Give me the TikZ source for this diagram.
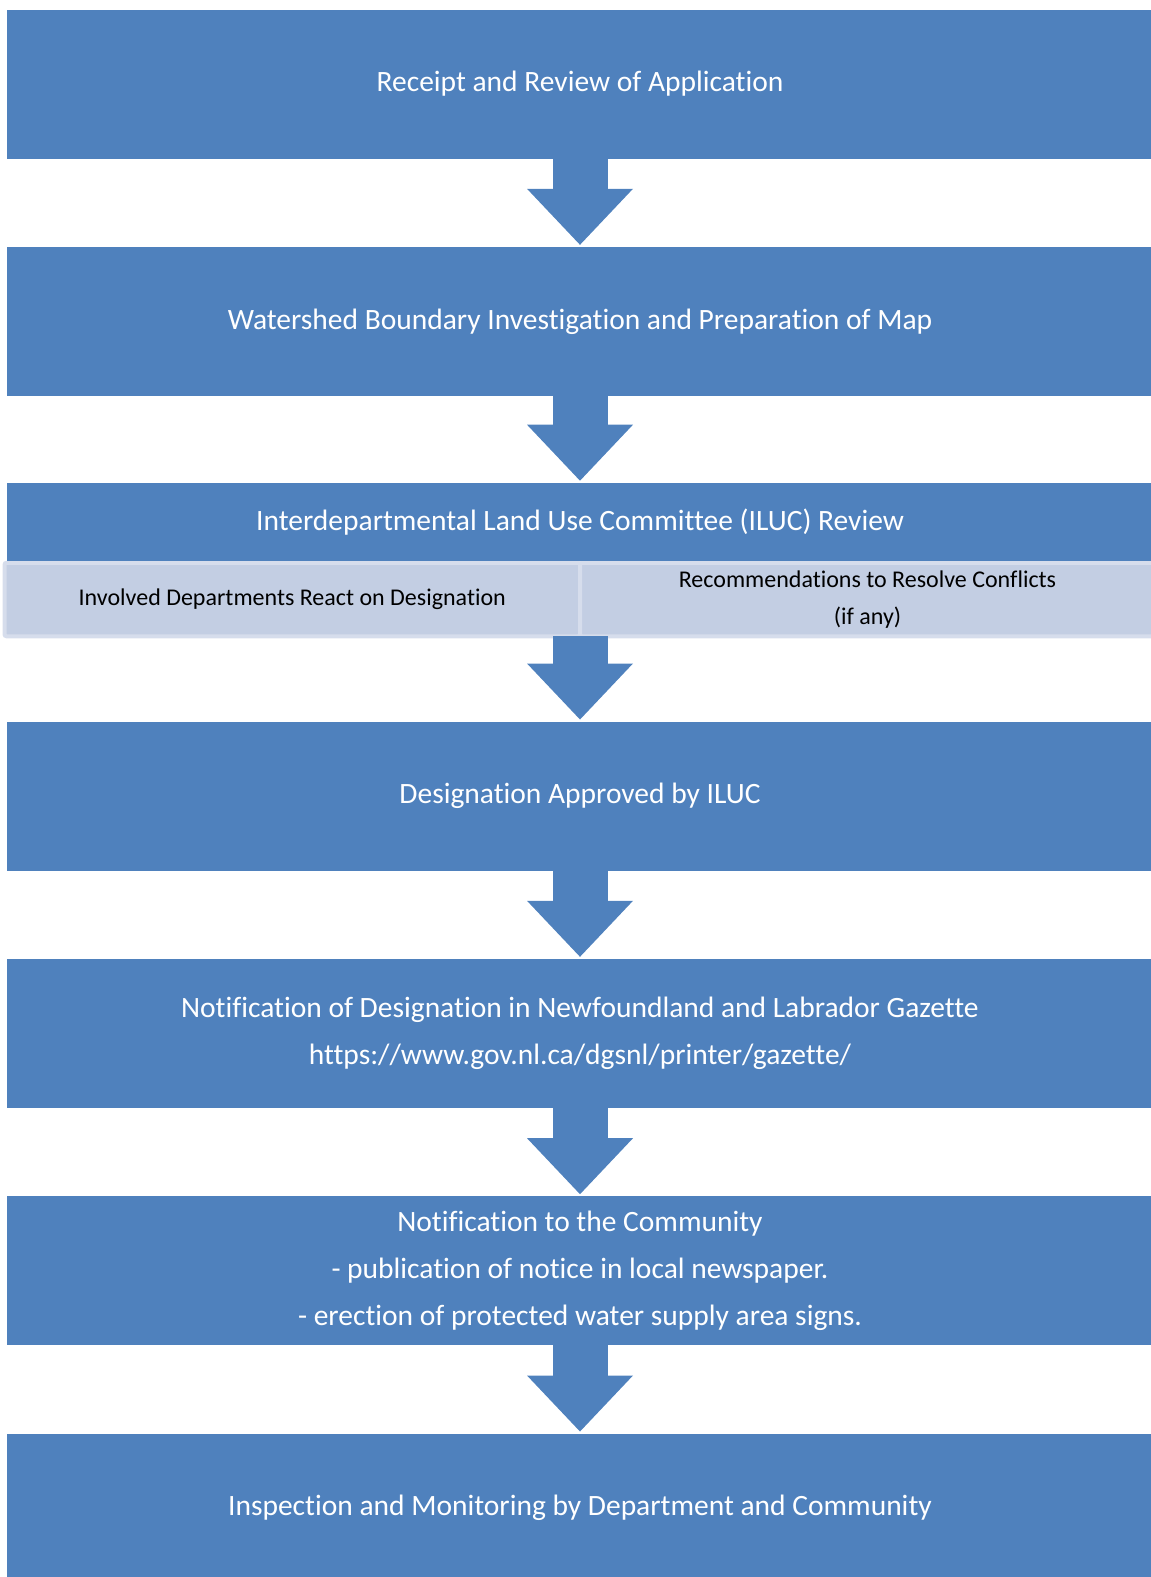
\documentclass[tikz,border=0pt]{standalone}
\usepackage{fontspec}
\setmainfont{Carlito}[Ligatures=CommonOff]
\usetikzlibrary{arrows.meta}
\definecolor{boxblue}{HTML}{4F81BD}
\definecolor{subfill}{HTML}{C3CEE3}
\definecolor{subedge}{HTML}{D6DDEC}
\begin{document}
\begin{tikzpicture}[x=1pt,y=-1pt,
  stepbox/.style={rectangle, fill=boxblue, text=white, minimum width=1146pt, minimum height=149pt, inner sep=0pt, outer sep=0pt, align=center, font=\fontsize{29.5pt}{47pt}\selectfont},
  subbox/.style={rectangle, fill=subfill, draw=subedge, line width=4pt, rounded corners=2pt, minimum height=73.5pt, inner sep=0pt, outer sep=0pt, align=center, font=\fontsize{24pt}{37.5pt}\selectfont},
  flow/.style={draw=boxblue, line width=55pt, -{Triangle[width=106pt,length=56pt,line width=0pt]}, shorten >=2pt}]
\useasboundingbox (0,0) rectangle (1151,1577);
\node[stepbox] (receipt) at (580,84){Receipt and Review of Application};
\node[stepbox] (watershed) at (580,321.3){Watershed Boundary Investigation and Preparation of Map};
\node[subbox, minimum width=575.5pt] (involved) at (292.25,599.5){Involved Departments React on Designation};
\node[subbox, minimum width=575pt] (resolve) at (867.5,599.5){Recommendations to Resolve Conflicts\\(if any)};
\node[stepbox, minimum height=78.3pt] (iluc) at (580,521.85){Interdepartmental Land Use Committee (ILUC) Review};
\node[stepbox] (approved) at (580,796){Designation Approved by ILUC};
\node[stepbox] (gazette) at (580,1033.3){Notification of Designation in Newfoundland and Labrador Gazette\\https://www.gov.nl.ca/dgsnl/printer/gazette/};
\node[stepbox] (community) at (580,1270.7){Notification to the Community\\- publication of notice in local newspaper.\\- erection of protected water supply area signs.};
\node[stepbox] (inspection) at (580,1508){Inspection and Monitoring by Department and Community};
\draw[flow](receipt) -- (watershed);
\draw[flow](watershed) -- (iluc);
\draw[flow](involved.south east) -- (approved);
\draw[flow](approved) -- (gazette);
\draw[flow](gazette) -- (community);
\draw[flow](community) -- (inspection);
\end{tikzpicture}
\end{document}
